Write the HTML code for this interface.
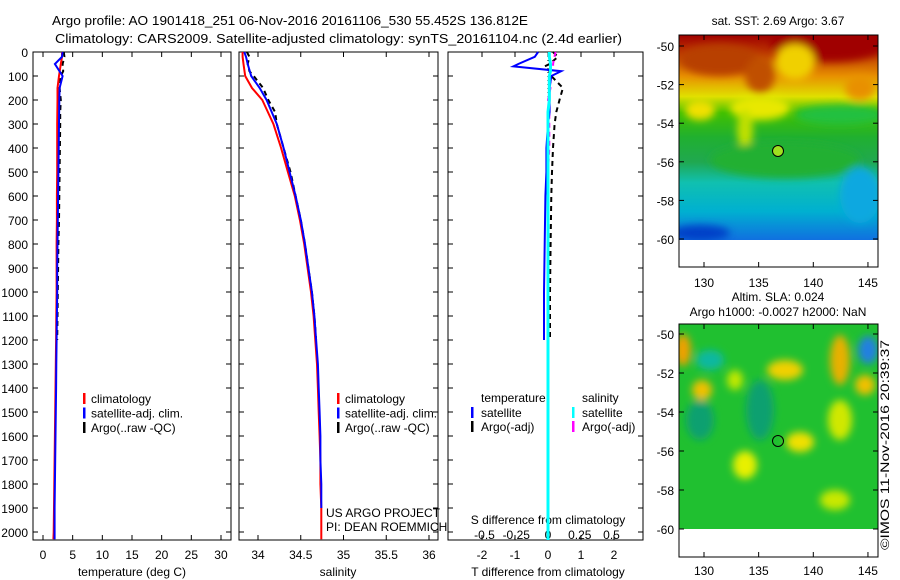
<!DOCTYPE html>
<html><head><meta charset="utf-8"><style>
body{margin:0;background:#fff;}
svg{display:block;font-family:"Liberation Sans",sans-serif;}
text{font-size:12px;fill:#000;}
</style></head><body>
<svg id="fig" width="900" height="580" viewBox="0 0 900 580">
<defs>
<filter id="blur4" x="-20%" y="-20%" width="140%" height="140%"><feGaussianBlur stdDeviation="4"/></filter>
<filter id="blur6" x="-20%" y="-20%" width="140%" height="140%"><feGaussianBlur stdDeviation="6"/></filter>
<clipPath id="clipM1"><rect x="679" y="35" width="199" height="205"/></clipPath>
<clipPath id="clipM2"><rect x="679" y="324" width="199" height="205"/></clipPath>
<linearGradient id="sstGrad" x1="0" y1="0" x2="0" y2="1">
<stop offset="0" stop-color="#a00000"/><stop offset="0.1" stop-color="#c04000"/><stop offset="0.2" stop-color="#e89000"/>
<stop offset="0.3" stop-color="#e0e000"/><stop offset="0.38" stop-color="#40c000"/><stop offset="0.5" stop-color="#20b030"/>
<stop offset="0.62" stop-color="#20a850"/><stop offset="0.72" stop-color="#10c0b0"/><stop offset="0.86" stop-color="#00b0d0"/><stop offset="1" stop-color="#1070e0"/>
</linearGradient>
</defs>
<text x="52" y="25" textLength="476" lengthAdjust="spacingAndGlyphs" style="font-size:13px">Argo profile: AO 1901418_251 06-Nov-2016 20161106_530 55.452S 136.812E</text>
<text x="55" y="43" textLength="567" lengthAdjust="spacingAndGlyphs" style="font-size:13px">Climatology: CARS2009. Satellite-adjusted climatology: synTS_20161104.nc (2.4d earlier)</text>
<g id="panels"></g>
<g id="maps">
<text x="778" y="25" text-anchor="middle">sat. SST: 2.69 Argo: 3.67</text>
<g clip-path="url(#clipM1)">
<rect x="679" y="35" width="199" height="205" fill="url(#sstGrad)"/>
<g filter="url(#blur4)">
<ellipse cx="830" cy="42" rx="60" ry="20" fill="#a00000"/>
<ellipse cx="720" cy="60" rx="40" ry="16" fill="#b84000"/>
<ellipse cx="795" cy="62" rx="20" ry="18" fill="#f0d000"/>
<ellipse cx="760" cy="75" rx="15" ry="18" fill="#c05000"/>
<ellipse cx="860" cy="88" rx="15" ry="12" fill="#e89000"/>
<ellipse cx="760" cy="108" rx="30" ry="12" fill="#e8e800"/>
<ellipse cx="700" cy="110" rx="15" ry="10" fill="#f0e000"/>
<ellipse cx="745" cy="130" rx="8" ry="20" fill="#c0e000"/>
<ellipse cx="840" cy="115" rx="45" ry="10" fill="#20c040"/>
<ellipse cx="785" cy="160" rx="75" ry="18" fill="#20b030"/>
<ellipse cx="860" cy="195" rx="20" ry="28" fill="#10a8e0"/>
<ellipse cx="700" cy="233" rx="30" ry="8" fill="#0040c8"/>
</g>
</g>
<rect x="679" y="240" width="199" height="27" fill="#fff"/>
<rect x="679" y="35" width="199" height="232" fill="none" stroke="#000"/>
<circle cx="778" cy="151" r="5.5" fill="#a0e020" stroke="#000"/>
<text x="778" y="301" text-anchor="middle">Altim. SLA: 0.024</text>
<text x="778" y="316" text-anchor="middle">Argo h1000: -0.0027 h2000: NaN</text>
<g clip-path="url(#clipM2)">
<rect x="679" y="324" width="199" height="205" fill="#20c030"/>
<g filter="url(#blur4)">
<ellipse cx="683" cy="350" rx="8" ry="16" fill="#f0a000"/>
<ellipse cx="710" cy="360" rx="14" ry="10" fill="#10b8a0"/>
<ellipse cx="702" cy="390" rx="10" ry="10" fill="#f0c000"/>
<ellipse cx="785" cy="370" rx="18" ry="10" fill="#f0d000"/>
<ellipse cx="840" cy="360" rx="10" ry="25" fill="#e8b000"/>
<ellipse cx="868" cy="350" rx="10" ry="14" fill="#2080e0"/>
<ellipse cx="865" cy="385" rx="10" ry="10" fill="#f0c000"/>
<ellipse cx="800" cy="442" rx="14" ry="10" fill="#f0e000"/>
<ellipse cx="840" cy="420" rx="12" ry="20" fill="#d0e800"/>
<ellipse cx="745" cy="465" rx="12" ry="14" fill="#e8f000"/>
<ellipse cx="700" cy="420" rx="14" ry="20" fill="#10a070"/>
<ellipse cx="760" cy="410" rx="14" ry="30" fill="#10a070"/>
<ellipse cx="835" cy="500" rx="15" ry="10" fill="#c8e800"/>
<ellipse cx="735" cy="380" rx="8" ry="10" fill="#c0e800"/>
</g>
</g>
<rect x="679" y="529" width="199" height="28" fill="#fff"/>
<rect x="679" y="324" width="199" height="233" fill="none" stroke="#000"/>
<circle cx="778" cy="441" r="5.5" fill="none" stroke="#000"/>
<text transform="translate(889,550) rotate(-90)" textLength="210" lengthAdjust="spacingAndGlyphs">©IMOS 11-Nov-2016 20:39:37</text>
</g>
</svg>
<script>
// ---- data ----
const depthsClim = [0,20,50,100,150,200,300,400,500,600,700,800,900,1000,1100,1200,1300,1400,1500,1600,1700,1800,1900,2000,2030];
const tempClim = [3.2,3.2,3.0,2.7,2.45,2.45,2.4,2.4,2.4,2.35,2.35,2.3,2.3,2.3,2.25,2.2,2.15,2.1,2.05,2.0,1.95,1.9,1.85,1.8,1.75];
const tempSat = [3.3,3.2,2.0,3.3,2.8,2.75,2.7,2.65,2.6,2.55,2.5,2.45,2.4,2.4,2.35,2.3,2.25,2.2,2.15,2.1,2.05,2.0,1.95,1.95,1.95];
const salClim = [33.82,33.82,33.83,33.85,33.93,34.05,34.18,34.27,34.35,34.43,34.49,34.54,34.58,34.62,34.65,34.67,34.69,34.70,34.71,34.72,34.73,34.73,34.74,34.74,34.74];
const salSat = [33.84,33.86,33.88,33.92,34.02,34.1,34.22,34.3,34.37,34.44,34.5,34.55,34.59,34.63,34.66,34.68,34.70,34.71,34.72,34.73,34.73,34.74,34.74,34.74,34.74];
const depthsArgo = [0,20,50,80,100,150,200,250,300,400,500,600,700,800,900,1000,1100,1200];
const tempArgo = [3.5,3.6,3.3,3.4,3.0,2.8,3.0,2.9,2.9,2.85,2.8,2.75,2.7,2.6,2.55,2.5,2.45,2.4];
const salArgo = [33.87,33.9,33.88,33.9,33.95,34.06,34.12,34.2,34.22,34.3,34.38,34.44,34.5,34.55,34.59,34.63,34.66,34.68];
const depthsDiff = [0,20,50,60,80,100,150,200,250,300,400,500,600,800,1000,1200];
const tDiffSat = [-0.3,-0.4,-0.9,-1.05,0.4,0.1,0.05,0.05,0.05,0.0,-0.05,-0.05,-0.08,-0.1,-0.12,-0.12];
const tDiffArgo = [0.15,0.3,0.05,-0.1,0.05,0.1,0.45,0.35,0.25,0.2,0.15,0.12,0.1,0.08,0.06,0.06];
const sDiffArgo = [0.06,0.05,0.04,0.04,0.02,0.02,0.02,0.0,0.01,0.01,0.01,0.0,0.0,0.0,0.0,0.0];
const sDiffSat = [0.01,0.01,0.02,0.02,0.02,0.01,0.01,0.01,0.0,0.0,0.0,0.0,0.0,0.0,0.0,0.0];
const depthTicks = [0,100,200,300,400,500,600,700,800,900,1000,1100,1200,1300,1400,1500,1600,1700,1800,1900,2000];
const tempTicks = [0,5,10,15,20,25,30];
const salTicks = [34,34.5,35,35.5,36];
const tdTicks = [-2,-1,0,1,2];
const sdTicks = [-0.5,-0.25,0,0.25,0.5];

// ---- axes ----
const Y0 = 52, YB = 540;
const yD = d => Y0 + d * 0.24;
const xT = v => 43 + v * 5.933;
const xS = v => 258 + (v - 34) * 85.5;
const xTD = v => 548 + v * 33;
const xSD = v => 548 + v * 127;
const NS = 'http://www.w3.org/2000/svg';
const root = document.getElementById('panels');
function mk(tag, attrs, parent) {
  const e = document.createElementNS(NS, tag);
  for (const k in attrs) e.setAttribute(k, attrs[k]);
  (parent || root).appendChild(e);
  return e;
}
function line(xs, ds, fx, color, w, dash, name, g) {
  const pts = xs.map((v, i) => fx(v).toFixed(1) + ',' + yD(ds[i]).toFixed(1)).join(' ');
  const p = mk('polyline', {points: pts, fill: 'none', stroke: color, 'stroke-width': w}, g);
  if (dash) p.setAttribute('stroke-dasharray', dash);
  
  
}
function panel(name, x0, x1) {
  const g = mk('g', {});
  
  
  const r = mk('rect', {x: x0, y: Y0, width: x1 - x0, height: YB - Y0, fill: 'none', stroke: '#000'}, g);
  
  
  depthTicks.forEach(d => {
    mk('line', {x1: x0, x2: x0 + 5, y1: yD(d), y2: yD(d), stroke: '#000'}, g);
    mk('line', {x1: x1, x2: x1 - 5, y1: yD(d), y2: yD(d), stroke: '#000'}, g);
  });
  return g;
}
function xticks(g, ticks, fx, top, labY) {
  ticks.forEach(t => {
    const x = fx(t);
    mk('line', {x1: x, x2: x, y1: YB, y2: YB - 5, stroke: '#000'}, g);
    if (top) mk('line', {x1: x, x2: x, y1: Y0, y2: Y0 + 5, stroke: '#000'}, g);
    if (labY) {
      const t2 = mk('text', {x: x, y: labY, 'text-anchor': 'middle'}, g);
      t2.textContent = String(t);
      
      
    }
  });
}
function txt(g, x, y, s, name, anchor) {
  const t = mk('text', {x: x, y: y}, g);
  if (anchor) t.setAttribute('text-anchor', anchor);
  t.textContent = s;
  
  
  return t;
}
function legMark(g, x, y, color, name) {
  const r = mk('rect', {x: x, y: y - 10, width: 2.5, height: 11, fill: color}, g);
  
  
}

// panel 1: temperature
const g1 = panel('temperature-panel', 33, 231);
depthTicks.forEach(d => txt(g1, 28, yD(d) + 5, String(d), 'y-tick-label', 'end'));
xticks(g1, tempTicks, xT, true, 559);
txt(g1, 132, 576, 'temperature (deg C)', 'x-axis-title', 'middle');
line(tempArgo, depthsArgo, xT, '#000', 2, '5,4', 'temp-argo-line', g1);
line(tempClim, depthsClim, xT, '#ff0000', 2, null, 'temp-climatology-line', g1);
line(tempSat, depthsClim, xT, '#0000ff', 2, null, 'temp-satellite-line', g1);
[['climatology','#ff0000'],['satellite-adj. clim.','#0000ff'],['Argo(..raw -QC)','#000']].forEach((l, i) => {
  legMark(g1, 83, 403 + i * 14.5, l[1], 'temp-legend-marker');
  txt(g1, 91, 403 + i * 14.5, l[0], 'temp-legend-entry');
});

// panel 2: salinity
const g2 = panel('salinity-panel', 239, 438);
xticks(g2, salTicks, xS, true, 559);
txt(g2, 338, 576, 'salinity', 'x-axis-title', 'middle');
line(salArgo, depthsArgo, xS, '#000', 2, '5,4', 'sal-argo-line', g2);
line(salClim, depthsClim, xS, '#ff0000', 2, null, 'sal-climatology-line', g2);
line(salSat, depthsClim.slice(0, 23), xS, '#0000ff', 2, null, 'sal-satellite-line', g2);
[['climatology','#ff0000'],['satellite-adj. clim.','#0000ff'],['Argo(..raw -QC)','#000']].forEach((l, i) => {
  legMark(g2, 337, 403 + i * 14.5, l[1], 'sal-legend-marker');
  txt(g2, 345, 403 + i * 14.5, l[0], 'sal-legend-entry');
});
txt(g2, 326, 517, 'US ARGO PROJECT', 'project-label');
txt(g2, 326, 531, 'PI: DEAN ROEMMICH', 'pi-label');

// panel 3: differences
const g3 = panel('difference-panel', 448, 643);
xticks(g3, tdTicks, xTD, true, 559);
sdTicks.forEach(t => txt(g3, xSD(t), 539, String(t), 'sd-tick-label', 'middle'));
txt(g3, 548, 524, 'S difference from climatology', 's-diff-axis-title', 'middle');
txt(g3, 548, 576, 'T difference from climatology', 'x-axis-title', 'middle');
const zl = mk('line', {x1: xTD(0), x2: xTD(0), y1: Y0, y2: YB, stroke: '#000', 'stroke-dasharray': '1,3'}, g3);


line(tDiffArgo, depthsDiff, xTD, '#000', 2, '5,4', 'tdiff-argo-line', g3);
line(sDiffArgo, depthsDiff, xSD, '#ff00ff', 2, '5,4', 'sdiff-argo-line', g3);
line(tDiffSat, depthsDiff, xTD, '#0000ff', 2, null, 'tdiff-satellite-line', g3);
const cy = mk('line', {x1: xSD(0), x2: xSD(0), y1: yD(1200), y2: YB, stroke: '#00ffff', 'stroke-width': 3}, g3);


line(sDiffSat, depthsDiff, xSD, '#00ffff', 3, null, 'sdiff-satellite-line', g3);
txt(g3, 481, 402, 'temperature', 'legend-header-temperature');
txt(g3, 582, 402, 'salinity', 'legend-header-salinity');
legMark(g3, 471, 417, '#0000ff', 'legend-marker'); txt(g3, 481, 417, 'satellite', 'legend-entry');
legMark(g3, 471, 431, '#000', 'legend-marker'); txt(g3, 481, 431, 'Argo(-adj)', 'legend-entry');
legMark(g3, 572, 417, '#00ffff', 'legend-marker'); txt(g3, 582, 417, 'satellite', 'legend-entry');
legMark(g3, 572, 431, '#ff00ff', 'legend-marker'); txt(g3, 582, 431, 'Argo(-adj)', 'legend-entry');

// map axes
const lats = [-50,-52,-54,-56,-58,-60];
const lons = [130,135,140,145];
const maps = document.getElementById('maps');
[[46, 239, 267, 287], [334, 529, 557, 575]].forEach((m, mi) => {
  const yL = la => m[0] + (-50 - la) * (m[1] - m[0]) / 10;
  const xL = lo => 704 + (lo - 130) * 10.93;
  lats.forEach(la => {
    mk('line', {x1: 679, x2: 684, y1: yL(la), y2: yL(la), stroke: '#000'}, maps);
    mk('line', {x1: 878, x2: 873, y1: yL(la), y2: yL(la), stroke: '#000'}, maps);
    const t = mk('text', {x: 674, y: yL(la) + 5, 'text-anchor': 'end'}, maps);
    t.textContent = String(la);
    
    
  });
  lons.forEach(lo => {
    const top = mi ? 324 : 35;
    mk('line', {x1: xL(lo), x2: xL(lo), y1: m[2], y2: m[2] - 5, stroke: '#000'}, maps);
    mk('line', {x1: xL(lo), x2: xL(lo), y1: top, y2: top + 5, stroke: '#000'}, maps);
    const t = mk('text', {x: xL(lo), y: m[3], 'text-anchor': 'middle'}, maps);
    t.textContent = String(lo);
    
    
  });
});
</script>
</body></html>
